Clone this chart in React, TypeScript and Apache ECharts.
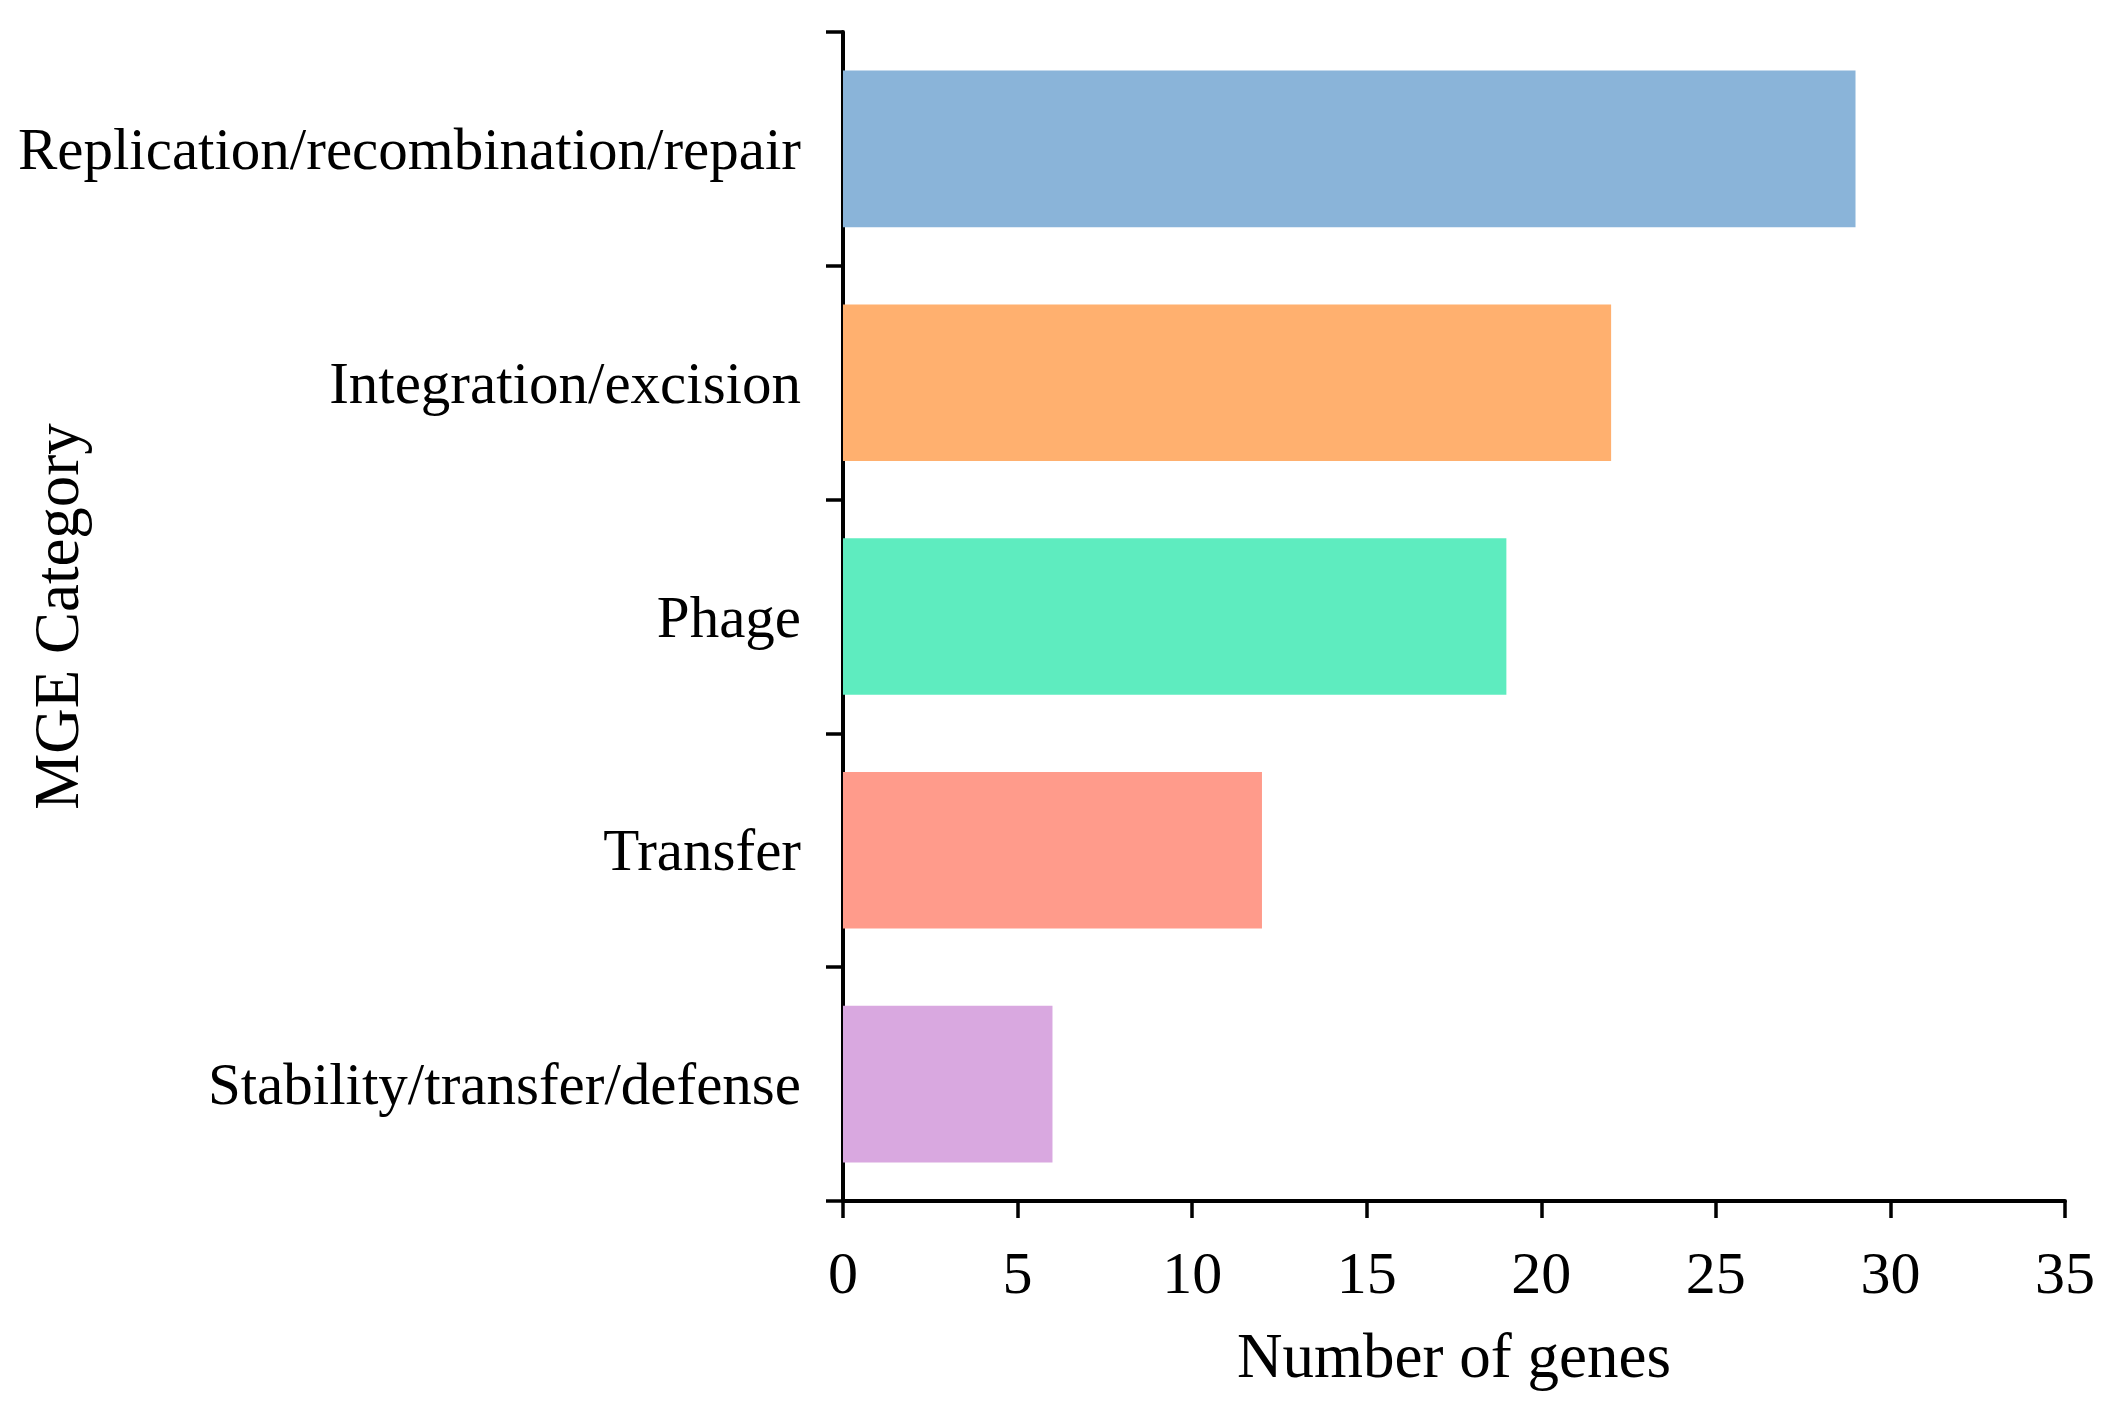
import React, { useEffect, useRef } from "react";
import * as echarts from "echarts";

const categories = [
  "Replication/recombination/repair",
  "Integration/excision",
  "Phage",
  "Transfer",
  "Stability/transfer/defense",
];
const geneCounts = [29, 22, 19, 12, 6];
const barColors = ["#8AB4D9", "#FFB06F", "#5EECBF", "#FF9B8B", "#D9A8E0"];
const xTicks = [0, 5, 10, 15, 20, 25, 30, 35];

const FONT = '"Liberation Serif", "Times New Roman", serif';

export default function App() {
  const ref = useRef<HTMLDivElement>(null);
  useEffect(() => {
    if (!ref.current) return;
    const chart = echarts.init(ref.current, null, { renderer: "svg" });
    chart.setOption({
      animation: false,
      backgroundColor: "#ffffff",
      grid: {
        left: 843,
        right: 54,
        top: 32,
        bottom: 206,
        containLabel: false,
        outerBoundsMode: "none",
      },
      xAxis: {
        type: "value",
        min: xTicks[0],
        max: xTicks[xTicks.length - 1],
        interval: 5,
        name: "Number of genes",
        nameLocation: "middle",
        nameGap: 123,
        nameMoveOverlap: false,
        nameTextStyle: { fontFamily: FONT, fontSize: 63, color: "#000" },
        axisLine: { show: true, lineStyle: { color: "#000", width: 4 } },
        axisTick: { show: true, length: 17, lineStyle: { color: "#000", width: 3.5 } },
        axisLabel: { fontFamily: FONT, fontSize: 60, color: "#000", margin: 42 },
        splitLine: { show: false },
      },
      yAxis: {
        type: "category",
        inverse: true,
        data: categories,
        name: "MGE Category",
        nameLocation: "middle",
        nameGap: 755,
        nameMoveOverlap: false,
        nameTextStyle: { fontFamily: FONT, fontSize: 63, color: "#000" },
        axisLine: { show: true, lineStyle: { color: "#000", width: 4 } },
        axisTick: { show: true, length: 17, lineStyle: { color: "#000", width: 3.5 } },
        axisLabel: { fontFamily: FONT, fontSize: 59, color: "#000", margin: 42 },
        splitLine: { show: false },
      },
      series: [
        {
          type: "bar",
          barCategoryGap: "33%",
          data: geneCounts.map((v, i) => ({ value: v, itemStyle: { color: barColors[i] } })),
        },
      ],
    });
    return () => chart.dispose();
  }, []);
  return (
    <div
      ref={ref}
      style={{ position: "fixed", left: 0, top: 0, width: 2119, height: 1407, background: "#fff" }}
    />
  );
}
